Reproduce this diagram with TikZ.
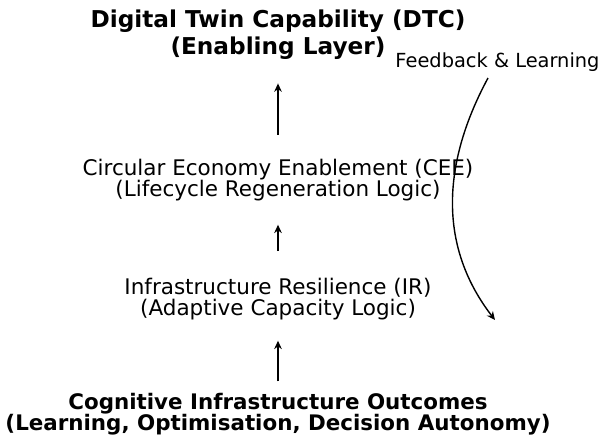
\documentclass[tikz,border=0pt]{standalone}
\usepackage{fontspec}
\setmainfont{DejaVu Sans}
\usepackage{tikz}
\usetikzlibrary{arrows.meta,positioning}

\begin{document}
\begin{tikzpicture}[
  x=0.5pt, y=-0.5pt,
  >={Stealth[length=4.2pt,width=3.8pt]},
  toplbl/.style={
    align=center, inner sep=0pt, text=black,
    font=\fontsize{11.6}{13.5}\selectfont\bfseries
  },
  midlbl/.style={
    align=center, inner sep=0pt, text=black,
    font=\fontsize{10.75}{10.5}\selectfont
  },
  botlbl/.style={
    align=center, inner sep=0pt, text=black,
    font=\fontsize{10.7}{10.5}\selectfont\bfseries
  },
  fblbl/.style={inner sep=0pt, text=black, font=\fontsize{9.7}{11}\selectfont},
  uparrow/.style={->, draw=black, line width=0.75pt},
  fbarrow/.style={->, draw=black, line width=0.7pt}
]
\useasboundingbox (0,0) rectangle (601,436);

% Layers, bottom to top
\node[toplbl] (dtc) at (278,35) {Digital Twin Capability (DTC)\\(Enabling Layer)};
\node[midlbl] (cee) at (278,180) {Circular Economy Enablement (CEE)\\(Lifecycle Regeneration Logic)};
\node[midlbl] (ir) at (278,299) {Infrastructure Resilience (IR)\\(Adaptive Capacity Logic)};
\node[botlbl] (cio) at (278,414.6) {Cognitive Infrastructure Outcomes\\(Learning, Optimisation, Decision Autonomy)};

% Upward links
\draw[uparrow, shorten <=5.9pt, shorten >=10.2pt] (cio.north) -- (ir.south);
\draw[uparrow, shorten <=13.3pt, shorten >=11.7pt] (ir.north) -- (cee.south);
\draw[uparrow, shorten <=11.9pt, shorten >=11.6pt] (cee.north) -- (dtc.south);

% Feedback loop
\node[fblbl, anchor=base] (fb) at (497.5,67) {Feedback \& Learning};
\coordinate (fbstart) at (488,78);
\coordinate (fbend) at (495,320);
\draw[fbarrow] (fbstart) .. controls (439,169) and (441,250) .. (fbend);

\end{tikzpicture}
\end{document}
